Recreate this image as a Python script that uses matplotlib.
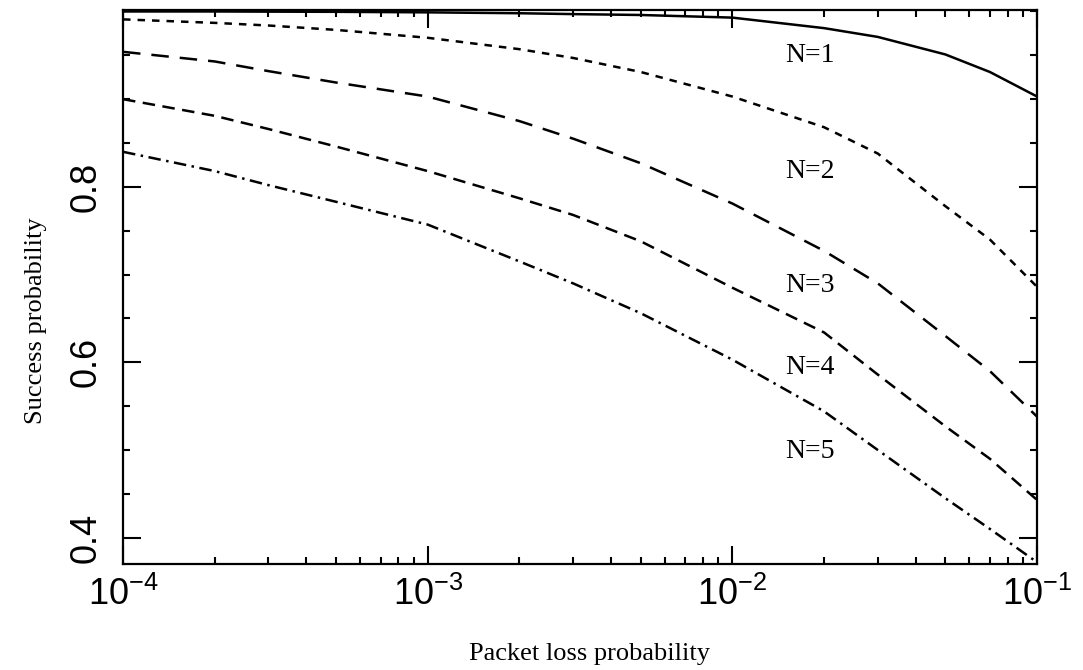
"""Success probability vs packet loss probability for N = 1..5."""

import matplotlib

matplotlib.use("Agg")
import matplotlib.pyplot as plt
from matplotlib.ticker import LogLocator, MultipleLocator


# packet loss probability (x), same sample points for every curve
loss = [1e-4, 2e-4, 3e-4, 5e-4, 1e-3, 2e-3, 3e-3, 5e-3, 1e-2, 2e-2, 3e-2, 5e-2, 7e-2, 1e-1]

succ_n1 = [1.000, 1.000, 0.9998, 0.9996, 0.999, 0.998, 0.997, 0.996, 0.993, 0.981, 0.971, 0.951, 0.931, 0.903]
succ_n2 = [0.991, 0.987, 0.984, 0.979, 0.970, 0.957, 0.947, 0.931, 0.903, 0.868, 0.838, 0.778, 0.740, 0.686]
succ_n3 = [0.954, 0.943, 0.932, 0.919, 0.903, 0.875, 0.855, 0.827, 0.781, 0.727, 0.690, 0.630, 0.590, 0.538]
succ_n4 = [0.900, 0.881, 0.866, 0.846, 0.818, 0.787, 0.768, 0.738, 0.685, 0.634, 0.586, 0.527, 0.490, 0.443]
succ_n5 = [0.840, 0.818, 0.802, 0.783, 0.757, 0.715, 0.690, 0.656, 0.603, 0.544, 0.500, 0.445, 0.410, 0.372]

curve_labels = ["N=1", "N=2", "N=3", "N=4", "N=5"]
label_x = [0.018, 0.018, 0.018, 0.018, 0.018]
label_y = [0.950, 0.817, 0.688, 0.594, 0.498]

TICK_FONT = ["Liberation Sans", "DejaVu Sans"]
SERIF = ["Liberation Serif", "DejaVu Serif"]


def main() -> None:
    plt.rcParams["font.family"] = TICK_FONT
    plt.rcParams["mathtext.default"] = "regular"

    fig = plt.figure(figsize=(10.83, 6.70), dpi=100)
    ax = fig.add_axes([0.1136, 0.1582, 0.8440, 0.8269])

    lw = 1.8
    styles = [
        "-",
        (0, (3.0, 2.8)),            # short dashes
        (0, (7.0, 4.4)),            # long dashes
        (0, (5.0, 3.0)),            # medium dashes
        (0, (5.0, 2.2, 1.0, 2.2)),  # dash-dot
    ]
    series = [succ_n1, succ_n2, succ_n3, succ_n4, succ_n5]
    for ys, ls in zip(series, styles):
        ax.plot(loss, ys, color="black", lw=lw, linestyle=ls)

    for txt, x, y in zip(curve_labels, label_x, label_y):
        ax.text(x, y, txt, ha="center", va="center", fontsize=20, family=SERIF)

    ax.set_xscale("log")
    ax.set_xlim(1e-4, 1e-1)
    ax.set_ylim(0.37, 1.0017)
    ax.xaxis.set_major_locator(LogLocator(base=10))
    ax.xaxis.set_minor_locator(LogLocator(base=10, subs=range(2, 10)))
    ax.yaxis.set_major_locator(MultipleLocator(0.2))
    ax.yaxis.set_minor_locator(MultipleLocator(0.05))
    ax.set_yticks([0.4, 0.6, 0.8], ["0.4", "0.6", "0.8"])

    ax.tick_params(which="both", direction="in", top=True, right=True, width=1.5, color="black")
    ax.tick_params(which="major", length=13)
    ax.tick_params(which="minor", length=5)
    ax.tick_params(axis="x", which="major", labelsize=26, pad=9)
    ax.tick_params(axis="y", which="major", labelsize=26, pad=14)
    for lab in ax.get_yticklabels():
        lab.set_rotation(90)
        lab.set_va("center")

    for sp in ax.spines.values():
        sp.set_linewidth(1.6)

    ax.set_xlabel("Packet loss probability", fontsize=19, family=SERIF)
    ax.set_ylabel("Success probability", fontsize=19, family=SERIF)
    ax.xaxis.set_label_coords(0.51, -0.162)
    ax.yaxis.set_label_coords(-0.083, 0.439)
    ax.xaxis.label.set_va("center")

    fig.savefig("out.png", dpi=100)
    plt.close(fig)


if __name__ == "__main__":
    main()
